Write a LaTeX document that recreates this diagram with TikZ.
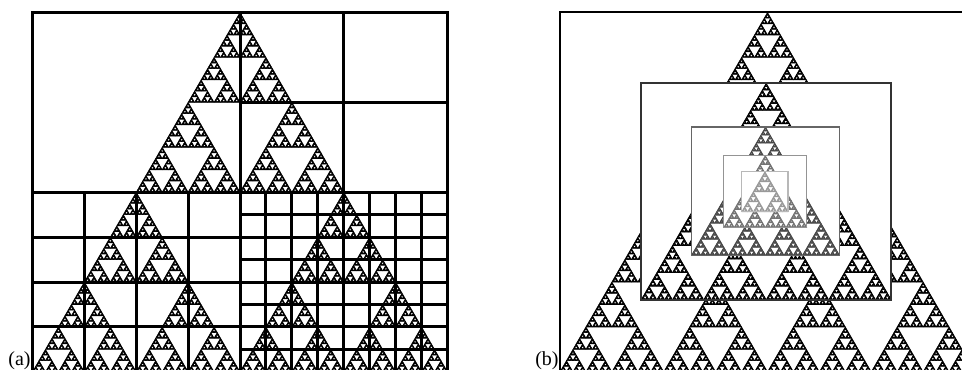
\documentclass[tikz,border=0pt]{standalone}
\usepackage{fontspec}
\setmainfont{Liberation Serif}
\usetikzlibrary{calc}

% Sierpinski gasket on a unit base, apex up
\newcommand{\gasket}[1]{%
  \ifnum#1<2
    \filldraw [line width=.3pt, line join=round]
          (0,0) -- (.5,0) -- (.25,-.433) -- cycle
          (.5,0) -- (1,0) -- (.75,-.433) -- cycle
          (.25,-.433) -- (.75,-.433) -- (.5,-.866) -- cycle;
  \else
    \begin{scope}[scale=.5]\gasket{\numexpr#1-1\relax}\end{scope}
    \begin{scope}[shift={(.5,0)},scale=.5]\gasket{\numexpr#1-1\relax}\end{scope}
    \begin{scope}[shift={(.25,-.433)},scale=.5]\gasket{\numexpr#1-1\relax}\end{scope}
  \fi}

\begin{document}
\begin{tikzpicture}[x=.5pt, y=-.5pt]
        \tikzset{
            gridline/.style={draw, line width=1.5pt},
            frame/.style={draw, line width=1pt},
            panellabel/.style={inner sep=0pt, font=\fontsize{10}{12}\selectfont, anchor=base east}
        }
        \useasboundingbox (0,0) rectangle (962,369);

        % Panel (a): gasket and adaptive grid
        \coordinate (a-nw) at (32.5,12.5);
        \coordinate (a-se) at (447.5,371.9);
        \begin{scope}[shift={(a-se -| a-nw)}, scale=415]\gasket{7}\end{scope}
        \draw [gridline] (a-nw) rectangle (a-se);
        \draw [gridline] (240,12.5) -- (240,371.9);
        \draw [gridline] (32.5,192.2) -- (447.5,192.2);
        \draw [gridline] (343.75,12.5) -- (343.75,192.2);
        \draw [gridline] (240,102.35) -- (447.5,102.35);
        \foreach \i in {1,2,3} {
            \draw [gridline] (32.5+\i*51.875,192.2) -- (32.5+\i*51.875,371.9);
            \draw [gridline] (32.5,192.2+\i*44.925) -- (240,192.2+\i*44.925);
        }
        \foreach \i in {1,...,7} {
            \draw [gridline] (240+\i*25.9375,192.2) -- (240+\i*25.9375,371.9);
            \draw [gridline] (240,192.2+\i*22.4625) -- (447.5,192.2+\i*22.4625);
        }
        \node [panellabel] (label-a) at (31,365) {(a)};

        % Panel (b): nested zoom boxes
        \coordinate (b-nw) at (560,12.5);
        \coordinate (b-se) at (975,371.9);
        \begin{scope}[shift={(b-se -| b-nw)}, scale=415]\gasket{7}\end{scope}
        \draw [frame] (b-nw) rectangle (b-se);
        \foreach \cx/\cy/\w/\d/\tc/\lc/\lw in {
            766.2/191.5/250/7/black/black!80/0.8pt,
            765.5/191.2/148/6/black!72/black!60/0.7pt,
            765.3/191.5/83/5/black!55/black!42/0.6pt,
            764.9/191.8/46.3/4/black!40/black!28/0.6pt} {
            \fill [white] (\cx-\w/2,\cy-.433*\w) rectangle (\cx+\w/2,\cy+.433*\w);
            \begin{scope}[shift={(\cx-\w/2,\cy+.433*\w)}, scale=\w, color=\tc]\gasket{\d}\end{scope}
            \draw [draw=\lc, line width=\lw] (\cx-\w/2,\cy-.433*\w) rectangle (\cx+\w/2,\cy+.433*\w);
        }
        \node [panellabel] (label-b) at (559,365) {(b)};
\end{tikzpicture}
\end{document}
